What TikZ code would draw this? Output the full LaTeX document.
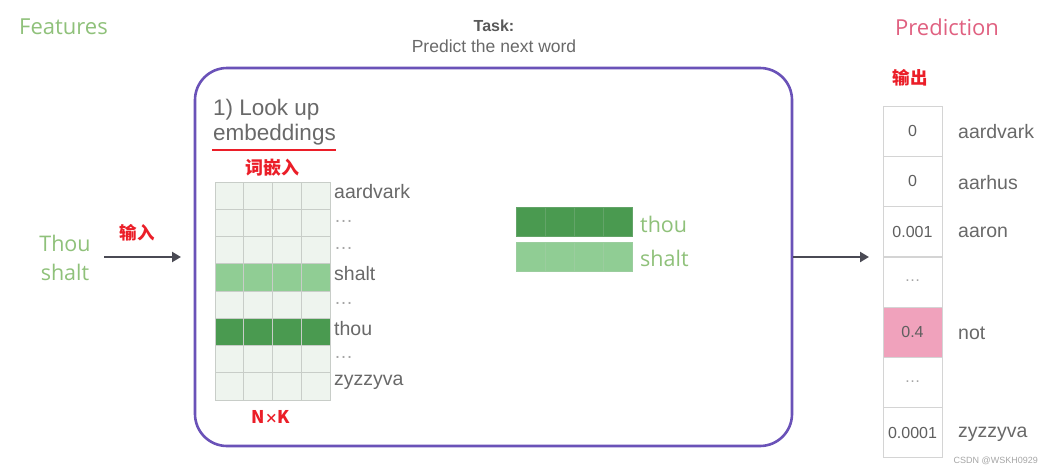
\documentclass[tikz,border=0pt]{standalone}
\usepackage{fontspec}
\setmainfont{Liberation Sans}
\newfontfamily\greenfont{Open Sans}
\newfontfamily\cjk{Noto Sans CJK SC}
\usetikzlibrary{arrows.meta}
\definecolor{boxpurple}{RGB}{106,82,184}
\definecolor{featgreen}{RGB}{143,193,122}
\definecolor{predpink}{RGB}{224,96,128}
\definecolor{cnred}{RGB}{235,30,40}
\definecolor{txtgray}{RGB}{105,105,105}
\definecolor{arrowgray}{RGB}{74,74,84}
\definecolor{darkcell}{RGB}{74,154,80}
\definecolor{lightcell}{RGB}{144,205,148}
\definecolor{palecell}{RGB}{238,244,238}
\definecolor{gridline}{RGB}{200,205,200}
\definecolor{pinkfill}{RGB}{240,162,188}
\definecolor{colborder}{RGB}{212,212,212}
\tikzset{
  green label/.style={text=featgreen, inner sep=0pt, font=\greenfont\fontsize{21.5}{24}\selectfont},
  gray label/.style={text=txtgray, inner sep=0pt, font=\fontsize{19.5}{22}\selectfont},
  dots label/.style={text=txtgray!60, inner sep=0pt, font=\fontsize{19}{22}\selectfont},
  cn label/.style={text=cnred, inner sep=0pt, font=\cjk\bfseries\fontsize{17.5}{20}\selectfont},
  flow arrow/.style={draw=arrowgray, line width=2.6pt, -{Triangle[length=9pt,width=10pt]}},
  cellbox/.style={draw=gridline, line width=0.8pt},
  predcell/.style={draw=colborder, line width=0.8pt, minimum width=59pt, minimum height=50pt, inner sep=0pt,
    text=txtgray!90!black, font=\fontsize{16}{18}\selectfont},
}
\begin{document}
\begin{tikzpicture}[x=1pt,y=-1pt]
\useasboundingbox (0,0) rectangle (1054,466);
\fill[white] (0,0) rectangle (1054,466);

% headers
\node[text=featgreen, inner sep=0pt, font=\greenfont\fontsize{22}{24}\selectfont, anchor=west] (feat) at (19,27) {Features};
\node[text=predpink, inner sep=0pt, font=\greenfont\fontsize{22}{24}\selectfont, anchor=west] (pred) at (895,27) {Prediction};
\node[text=txtgray!85!black, inner sep=0pt, font=\bfseries\fontsize{16}{18}\selectfont] (task) at (494,26) {Task:};
\node[text=txtgray, inner sep=0pt, font=\fontsize{17.5}{20}\selectfont] (taskdesc) at (494,46) {Predict the next word};

% main box
\node[draw=boxpurple, line width=2.6pt, rounded corners=32pt, minimum width=597pt, minimum height=378pt, inner sep=0pt] (box) at (493.5,257) {};

% inputs
\node[green label] (thou) at (65,243) {Thou};
\node[green label] (shalt) at (65,272) {shalt};
\node[cn label] (inlab) at (137,233) {输入};
\coordinate (inA) at (104,257);
\coordinate (inB) at (181,257);
\draw[flow arrow] (inA) -- (inB);

% look up embeddings
\node[text=txtgray, inner sep=0pt, font=\fontsize{22.5}{26}\selectfont, anchor=west] (look) at (213,110) {1) Look up};
\node[text=txtgray, inner sep=0pt, font=\fontsize{22.5}{26}\selectfont, anchor=west] (emb) at (213,135) {embeddings};
\coordinate (ulA) at (212,150);
\coordinate (ulB) at (336,150);
\draw[cnred, line width=1.4pt] (ulA) -- (ulB);
\node[cn label, font=\cjk\bfseries\fontsize{18}{20}\selectfont] (embcn) at (272,168) {词嵌入};

% embedding matrix
\foreach \r/\fc in {0/palecell,1/palecell,2/palecell,3/lightcell,4/palecell,5/darkcell,6/palecell,7/palecell}{
  \foreach \c in {0,1,2,3}{
    \filldraw[cellbox, fill=\fc] ({215+\c*28.75},{182+\r*27.25}) rectangle ++(28.75,27.25);
  }
}
\foreach \r/\w in {0/aardvark,3/shalt,5/thou,7/zyzzyva}{
  \node[gray label, anchor=west] (m\r) at (334,{192+\r*27.25}) {\w};
}
\foreach \r in {1,2,4,6}{
  \node[dots label, anchor=west] (m\r) at (334,{194+\r*27.25}) {\ldots};
}
\node[cn label] (nk) at (271,417) {N{\fontsize{13}{14}\selectfont×}K};

% selected vectors
\foreach \c in {0,1,2,3}{
  \filldraw[cellbox, draw=darkcell!80!gridline, fill=darkcell] ({516+\c*29},207) rectangle ++(29,29);
  \filldraw[cellbox, draw=lightcell!80!gridline, fill=lightcell] ({516+\c*29},242) rectangle ++(29,29);
}
\node[green label, anchor=west] (vthou) at (640,224) {thou};
\node[green label, anchor=west] (vshalt) at (640,258) {shalt};

% output arrow
\coordinate (outB) at (869,257);
\draw[flow arrow] (box.east) -- (outB);

% prediction column
\node[cn label] (outlab) at (910,78) {输出};
\foreach \i/\v/\w in {0/0/aardvark,1/0/aarhus,2/0.001/aaron,3/{}/,4/0.4/not,5/{}/,6/0.0001/zyzzyva}{
  \node[predcell] (p\i) at (912.5,{131+\i*50.3}) {\v};
  \node[gray label, anchor=west] (w\i) at (958,{132+\i*50.3}) {\w};
}
\node[dots label, font=\fontsize{16}{18}\selectfont] (d3) at (912.5,281) {\ldots};
\node[dots label, font=\fontsize{16}{18}\selectfont] (d5) at (912.5,382) {\ldots};
\node[predcell, fill=pinkfill] (p4b) at (p4) {0.4};
\node[text=gray!70, inner sep=0pt, font=\fontsize{9}{10}\selectfont, anchor=east] (wm) at (1038,461) {CSDN @WSKH0929};
\end{tikzpicture}
\end{document}
